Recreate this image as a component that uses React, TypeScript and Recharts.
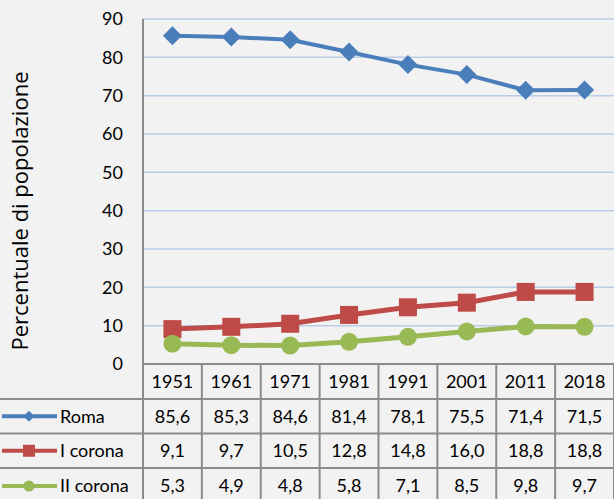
import React from 'react';
import { LineChart, Line, XAxis, YAxis, CartesianGrid } from 'recharts';

const years = ['1951', '1961', '1971', '1981', '1991', '2001', '2011', '2018'];
const roma = [85.6, 85.3, 84.6, 81.4, 78.1, 75.5, 71.4, 71.5];
const corona1 = [9.1, 9.7, 10.5, 12.8, 14.8, 16.0, 18.8, 18.8];
const corona2 = [5.3, 4.9, 4.8, 5.8, 7.1, 8.5, 9.8, 9.7];
const yTicks = [0, 10, 20, 30, 40, 50, 60, 70, 80, 90];
const seriesNames = ['Roma', 'I corona', 'II corona'];
const seriesColors = ['#4a7ebb', '#be4b48', '#98b954'];
const seriesValues = [roma, corona1, corona2];

const chartData = years.map((year, i) => ({ year, roma: roma[i], c1: corona1[i], c2: corona2[i] }));

const W = 614;
const H = 499;
const PLOT_LEFT = 143;
const BAND = (W - PLOT_LEFT) / years.length;
const GRAY = '#8c8c8c';
const FONT = 'Lato, "Liberation Sans", sans-serif';
const ROW_TOPS = [0, 35, 69.5, 104, 140];

const fmt = (v: number) => v.toFixed(1).replace('.', ',');

const Diamond = (props: any) => {
  const { cx, cy, fill, size = 9.5 } = props;
  if (cx == null || cy == null) return null;
  return <polygon points={`${cx},${cy - size} ${cx + size},${cy} ${cx},${cy + size} ${cx - size},${cy}`} fill={fill} />;
};
const Square = (props: any) => {
  const { cx, cy, fill, size = 9 } = props;
  if (cx == null || cy == null) return null;
  return <rect x={cx - size} y={cy - size} width={size * 2} height={size * 2} fill={fill} />;
};
const Circle = (props: any) => {
  const { cx, cy, fill, size = 9 } = props;
  if (cx == null || cy == null) return null;
  return <circle cx={cx} cy={cy} r={size} fill={fill} />;
};
const markers = [Diamond, Square, Circle];

const TableTick = (props: any) => {
  const { x, y, payload } = props;
  const i = payload.index;
  const half = BAND / 2;
  const left = x - half;
  const rowMid = (r: number) => y + (ROW_TOPS[r] + ROW_TOPS[r + 1]) / 2;
  return (
    <g>
      {i === 0 && (
        <g>
          {[1, 2, 3].map((r) => (
            <line key={r} x1={0} x2={W} y1={y + ROW_TOPS[r]} y2={y + ROW_TOPS[r]} stroke={GRAY} strokeWidth={2} />
          ))}
          {seriesNames.map((name, s) => {
            const M = markers[s];
            const cy = rowMid(s + 1);
            return (
              <g key={name}>
                <line x1={2} x2={57} y1={cy} y2={cy} stroke={seriesColors[s]} strokeWidth={4} />
                <M cx={29} cy={cy} fill={seriesColors[s]} size={s === 1 ? 6 : 5.5} />
                <text x={60} y={cy} dy="0.35em" fontSize={18} fontFamily={FONT} fill="#000">{name}</text>
              </g>
            );
          })}
        </g>
      )}
      <line x1={left} x2={left} y1={y} y2={H + 5} stroke={GRAY} strokeWidth={2} />
      {i === years.length - 1 && (
        <line x1={x + half} x2={x + half} y1={y} y2={H + 5} stroke={GRAY} strokeWidth={2} />
      )}
      <text x={x} y={rowMid(0)} dy="0.35em" textAnchor="middle" fontSize={18} fontFamily={FONT} fill="#000">{payload.value}</text>
      {seriesValues.map((vals, s) => (
        <text key={s} x={x} y={rowMid(s + 1)} dy="0.35em" textAnchor="middle" fontSize={18} fontFamily={FONT} fill="#000">{fmt(vals[i])}</text>
      ))}
    </g>
  );
};

const YTitle = (props: any) => {
  const vb = props.viewBox || { x: 0 };
  const cx = vb.x + 20;
  const cy = 211;
  return (
    <text x={cx} y={cy} transform={`rotate(-90, ${cx}, ${cy})`} textAnchor="middle" dy="0.35em" fontSize={22} fontFamily='"Open Sans", sans-serif' fill="#000">
      Percentuale di popolazione
    </text>
  );
};

export default function App() {
  return (
    <div style={{ position: 'absolute', left: 0, top: 0, width: W, height: H, background: '#f2f2f2' }}>
      <LineChart width={W} height={H} data={chartData} margin={{ top: 19, right: 0, bottom: 0, left: 0 }}>
        <CartesianGrid horizontal vertical={false} stroke="#b9cde7" strokeWidth={1.5} />
        <XAxis
          dataKey="year"
          height={135}
          interval={0}
          padding={{ left: BAND / 2, right: BAND / 2 }}
          tickLine={false}
          tickSize={0}
          tickMargin={0}
          axisLine={{ stroke: GRAY, strokeWidth: 2 }}
          tick={<TableTick />}
        />
        <YAxis
          width={PLOT_LEFT}
          domain={[0, 90]}
          ticks={yTicks}
          interval={0}
          tickLine={false}
          tickSize={0}
          tickMargin={20}
          axisLine={{ stroke: GRAY, strokeWidth: 2 }}
          tick={{ fontSize: 18, fontFamily: FONT, fill: '#000' }}
          label={<YTitle />}
        />
        <Line type="linear" dataKey="roma" stroke={seriesColors[0]} strokeWidth={4} dot={<Diamond fill={seriesColors[0]} />} activeDot={false} isAnimationActive={false} />
        <Line type="linear" dataKey="c1" stroke={seriesColors[1]} strokeWidth={5} dot={<Square fill={seriesColors[1]} />} activeDot={false} isAnimationActive={false} />
        <Line type="linear" dataKey="c2" stroke={seriesColors[2]} strokeWidth={5} dot={<Circle fill={seriesColors[2]} />} activeDot={false} isAnimationActive={false} />
      </LineChart>
    </div>
  );
}
